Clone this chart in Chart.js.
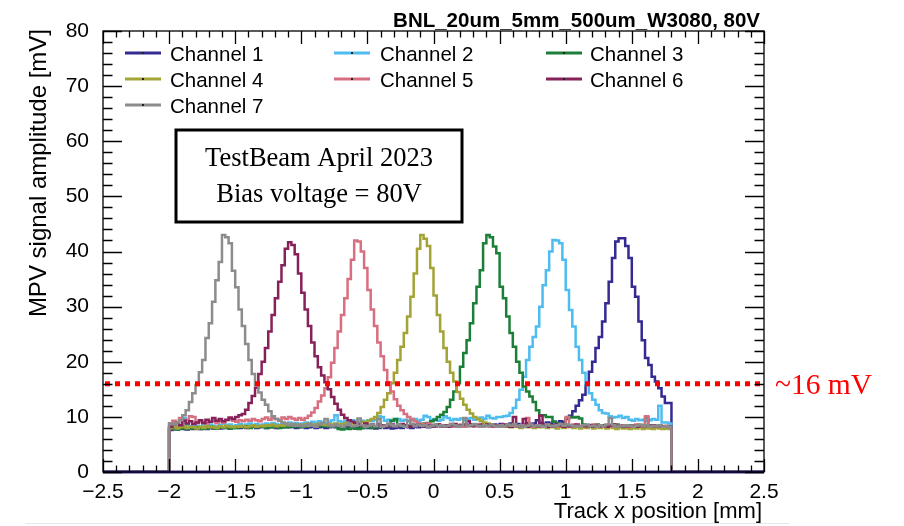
<!DOCTYPE html>
<html>
<head>
<meta charset="utf-8">
<script src="https://cdn.jsdelivr.net/npm/chart.js@4.4.1/dist/chart.umd.min.js"></script>
<style>
  html, body { margin: 0; padding: 0; background: #ffffff; }
  #wrap { width: 904px; height: 526px; }
</style>
</head>
<body>
<div id="wrap"><canvas id="c" width="904" height="526"></canvas></div>
<script>
// ---------------- data ----------------
const chartTitle = 'BNL_20um_5mm_500um_W3080, 80V';
const xTitle = 'Track x position [mm]';
const yTitle = 'MPV signal amplitude [mV]';
const boxLines = ['TestBeam April 2023', 'Bias voltage = 80V'];
const thresholdLabel = '~16 mV';
const threshold = 16;

const xMin = -2.5, xMax = 2.5;
const yMin = 0, yMax = 80;
const binStart = -2.0;      // first bin low edge [mm]
const binWidth = 0.025;     // bin width [mm]

const channelNames = ['Channel 1','Channel 2','Channel 3','Channel 4','Channel 5','Channel 6','Channel 7'];
const channelColors = ['#352a92','#4ebcef','#1c7f38','#a3a336','#d86f80','#862259','#8c8c8c'];

const ch1 = [
  7.6,7.8,7.7,7.9,7.8,7.7,7.9,7.8,8.0,7.8,
  7.9,7.8,8.0,7.9,8.1,7.9,8.0,8.1,7.9,8.0,
  8.1,8.0,8.2,8.0,8.1,8.2,8.0,8.1,8.2,8.0,
  8.1,8.2,8.0,8.2,8.1,8.3,8.1,8.2,8.0,8.1,
  8.2,8.0,8.1,8.2,8.0,8.1,8.2,8.0,8.1,8.3,
  8.1,8.2,8.0,8.1,8.2,8.0,7.9,8.1,8.0,8.2,
  8.0,8.1,7.9,8.0,8.2,8.0,8.1,7.9,8.0,8.1,
  8.0,8.2,8.1,8.0,8.2,8.1,8.3,8.2,8.1,8.3,
  8.2,8.4,8.3,8.2,8.4,8.3,8.5,8.4,8.3,8.5,
  8.4,8.6,8.4,8.5,8.7,8.5,8.6,8.4,8.6,8.5,
  8.7,8.5,8.6,8.8,8.6,8.7,8.5,8.7,8.9,8.6,
  8.8,9.4,8.9,8.7,9.0,8.8,9.1,8.9,9.2,9.0,
  9.6,10.2,11.0,12.0,13.0,14.0,15.8,18.2,20.0,22.5,
  24.5,27.3,30.6,34.5,38.8,41.8,42.4,42.4,41.0,38.8,
  33.6,31.8,27.3,23.9,20.7,19.4,17.3,16.4,15.2,13.7,
  12.5,12.5
];
const ch2 = [
  8.3,8.6,8.2,8.5,9.8,8.5,8.3,8.6,8.4,8.2,
  8.5,8.3,8.6,8.4,8.2,8.5,8.7,8.4,8.6,8.3,
  8.5,8.7,8.4,8.6,8.8,8.5,8.7,8.4,8.6,8.8,
  8.6,8.9,8.7,8.5,8.8,8.6,9.0,8.7,8.9,8.6,
  8.8,9.0,8.7,9.1,8.9,9.2,9.0,8.8,9.1,9.4,
  10.3,9.2,9.0,9.3,9.1,9.4,9.2,9.0,9.3,9.1,
  9.4,9.2,9.5,10.1,10.0,9.3,9.5,9.2,9.4,9.6,
  9.3,9.5,9.2,9.4,9.6,9.3,9.5,10.2,10.0,9.4,
  9.6,9.3,9.5,10.1,9.8,9.4,9.6,9.5,9.7,9.4,
  9.6,9.8,9.5,9.7,9.9,9.6,10.2,9.8,9.7,10.0,
  10.0,10.1,10.2,10.7,11.6,13.1,14.9,17.3,20.3,22.7,
  24.5,26.4,30.0,33.9,36.6,40.0,42.1,42.0,41.5,38.5,
  33.0,29.4,26.4,22.7,20.3,18.0,15.8,14.3,13.1,12.2,
  11.2,10.7,10.6,10.1,9.9,10.0,10.2,9.8,10.0,9.5,
  9.3,9.6,9.4,9.5,9.3,9.4,9.6,9.5,12.0,9.0,
  9.0,8.8
];
const ch3 = [
  7.8,8.0,7.7,7.9,8.1,7.8,8.0,7.9,8.1,7.8,
  8.0,7.9,8.2,8.0,7.9,8.1,8.0,8.2,7.9,8.1,
  8.0,8.2,8.1,8.3,8.0,8.2,8.1,8.3,8.2,8.0,
  8.2,8.1,8.3,8.0,8.2,8.1,8.3,8.2,8.4,8.1,
  8.3,8.2,8.4,8.5,8.2,8.4,8.3,8.5,8.2,8.4,
  8.3,7.8,7.7,7.9,7.8,8.0,7.9,7.8,8.0,8.1,
  8.2,8.0,8.3,8.1,8.2,8.4,8.3,9.3,9.6,8.5,
  8.3,8.5,8.4,8.6,8.5,8.7,8.6,8.8,8.9,9.2,
  9.5,10.0,10.4,10.9,11.8,13.1,14.6,16.1,19.1,21.6,
  23.9,27.0,30.6,33.6,36.6,41.5,43.0,42.6,40.9,39.7,
  33.6,31.5,28.2,25.2,22.7,20.0,18.0,15.5,14.6,13.7,
  12.7,11.2,10.3,10.3,10.0,10.0,9.1,8.8,8.6,8.5,
  9.8,10.0,9.9,10.0,9.7,8.6,8.4,8.5,8.3,8.6,
  8.4,8.2,8.5,8.3,8.4,8.6,8.3,8.2,8.4,8.5,
  8.3,8.2,8.4,8.3,9.9,8.5,8.2,8.4,8.3,8.2,
  8.3,8.1
];
const ch4 = [
  8.0,8.2,7.9,8.1,8.3,8.0,8.2,8.1,7.9,8.2,
  8.0,8.3,8.1,8.2,8.0,8.3,8.1,8.4,8.2,8.1,
  8.3,8.2,8.4,8.1,8.3,8.5,8.2,8.4,8.3,8.5,
  8.4,8.6,8.3,8.5,8.4,8.6,8.5,8.7,8.4,8.6,
  8.5,8.7,8.4,8.6,8.5,8.8,8.6,8.5,8.7,8.6,
  8.8,8.6,8.7,8.9,8.7,8.8,9.0,8.9,9.1,9.0,
  9.3,9.6,10.0,10.7,11.8,13.1,14.3,16.1,18.0,20.3,
  22.7,25.2,28.2,31.8,36.0,40.5,43.0,42.3,41.0,37.0,
  32.0,28.5,25.5,22.5,20.0,18.0,16.4,14.5,13.3,12.2,
  11.3,10.6,10.0,9.6,9.3,9.0,8.8,8.6,8.4,8.5,
  8.3,8.2,8.4,8.1,8.3,8.2,8.0,8.3,8.1,8.2,
  8.0,8.2,8.1,8.3,8.0,8.2,8.1,7.9,8.2,8.0,
  8.1,8.3,8.0,8.2,7.9,8.1,8.0,8.2,7.9,8.1,
  8.0,8.2,7.9,8.1,8.0,7.8,8.1,7.9,8.0,7.8,
  8.0,7.9,8.1,7.8,8.0,7.9,7.8,8.0,7.9,7.8,
  7.9,7.8
];
const ch5 = [
  8.8,9.3,9.0,9.8,9.4,9.5,10.1,10.0,8.9,9.2,
  9.0,8.8,9.1,9.3,8.9,9.2,9.0,9.4,9.6,9.3,
  9.1,9.4,9.2,9.5,9.3,9.6,9.4,9.2,9.6,9.9,
  9.5,9.8,9.6,9.4,9.9,9.6,10.0,9.7,9.5,9.8,
  9.5,9.8,10.2,10.8,11.6,12.8,13.9,15.2,17.2,19.8,
  22.5,25.5,28.5,31.5,35.0,38.5,42.0,41.8,40.0,37.0,
  33.0,29.5,26.5,23.5,21.0,18.5,16.3,14.6,13.2,12.0,
  11.2,10.5,10.0,9.6,9.2,8.9,8.7,8.5,8.8,8.4,
  8.3,8.6,8.4,8.2,8.5,8.7,8.3,8.4,8.6,8.2,
  8.5,8.3,8.4,8.6,8.2,8.5,8.3,8.4,8.2,8.5,
  8.3,8.6,8.4,8.2,8.5,8.3,8.4,8.6,9.8,8.4,
  8.2,8.5,8.3,8.4,8.6,8.2,8.5,8.3,8.4,8.2,
  10.0,8.3,8.6,8.4,8.2,8.5,8.3,8.4,8.6,8.3,
  8.2,8.5,8.4,8.3,8.6,8.2,8.4,8.5,8.3,8.2,
  8.4,8.6,8.3,8.5,10.1,8.2,8.4,8.3,8.5,8.2,
  8.4,8.1
];
const ch6 = [
  8.2,8.6,8.9,8.5,9.3,8.8,9.2,8.7,9.0,9.4,
  8.9,9.5,9.1,9.8,9.3,9.6,9.2,9.5,9.9,9.6,
  10.0,10.3,10.5,11.3,12.5,13.8,15.3,17.8,20.0,22.5,
  25.5,28.5,31.5,34.5,37.5,40.5,41.7,41.2,39.5,36.0,
  32.5,29.5,26.5,23.5,21.0,19.0,17.5,16.3,15.0,13.6,
  12.4,11.3,10.4,9.8,9.4,9.1,8.9,8.7,8.5,8.8,
  8.4,8.6,8.3,8.7,8.5,8.2,8.4,8.6,8.3,8.5,
  8.7,8.4,8.2,8.5,8.3,8.6,8.4,8.2,8.5,8.3,
  8.4,8.6,8.3,8.5,8.2,8.4,8.7,8.3,8.5,8.6,
  9.2,8.4,8.3,8.5,8.2,8.4,8.6,8.3,8.5,8.2,
  8.4,8.6,8.3,8.2,10.0,8.3,8.4,9.6,8.2,8.4,
  8.5,8.3,10.2,8.4,8.2,8.5,8.3,8.6,8.4,8.2,
  8.5,8.3,8.4,8.6,8.2,8.4,8.3,8.5,8.2,8.4,
  8.3,8.5,8.2,8.4,8.6,8.3,8.4,8.2,8.5,8.3,
  8.4,8.2,8.5,8.3,8.4,8.2,8.5,8.3,8.4,8.2,
  8.3,8.2
];
const ch7 = [
  8.8,8.6,9.0,9.4,10.3,11.2,12.7,14.3,15.8,18.1,
  20.3,24.3,27.0,30.9,34.8,38.1,43.0,42.6,41.5,36.5,
  33.5,29.5,26.5,23.2,20.3,17.8,15.8,14.4,13.1,12.2,
  11.0,10.1,9.6,9.3,9.0,8.8,8.5,8.7,8.4,8.6,
  8.3,8.5,8.8,8.4,8.2,8.6,8.9,9.6,8.5,8.3,
  8.6,8.4,8.2,8.5,8.8,8.3,8.4,9.7,8.5,8.2,
  8.4,8.6,8.3,9.6,8.2,8.4,8.8,8.5,8.3,8.6,
  8.4,8.2,9.3,8.7,8.3,8.6,8.4,8.5,8.2,8.4,
  8.6,8.3,8.5,8.3,8.4,8.7,8.5,8.2,8.4,9.8,
  8.3,8.5,8.7,8.4,8.2,8.5,8.3,8.6,8.4,8.2,
  8.5,8.3,8.6,8.4,8.7,8.3,8.5,8.2,8.4,8.6,
  8.3,8.5,8.4,8.2,8.6,8.4,8.3,8.5,8.7,8.4,
  8.6,8.5,8.3,8.4,8.2,8.5,8.6,8.3,8.4,8.2,
  8.5,8.3,8.6,9.8,8.5,8.2,8.4,8.3,8.5,8.4,
  8.2,8.4,8.6,8.3,8.5,8.2,8.4,8.3,8.5,8.2,
  8.3,8.1
];
const channelValues = [ch1, ch2, ch3, ch4, ch5, ch6, ch7];

// ---------------- build histogram step datasets ----------------
function histPoints(vals) {
  const pts = [{x: xMin, y: 0}];
  vals.forEach((v, i) => pts.push({x: +(binStart + i * binWidth).toFixed(4), y: v}));
  pts.push({x: +(binStart + vals.length * binWidth).toFixed(4), y: 0});
  pts.push({x: xMax, y: 0});
  return pts;
}

const datasets = channelValues.map((vals, i) => ({
  label: channelNames[i],
  data: histPoints(vals),
  borderColor: channelColors[i],
  backgroundColor: channelColors[i],
  borderWidth: 2.5,
  pointRadius: 0,
  stepped: 'before',
  fill: false,
  tension: 0,
  order: channelNames.length - i
}));

const SANS = '"Liberation Sans", Arial, Helvetica, sans-serif';
const SERIF = '"Liberation Serif", "Times New Roman", serif';

const decor = {
  id: 'decor',
  afterDatasetsDraw(chart) {
    const {ctx, chartArea: a, scales: {x, y}} = chart;
    ctx.save();
    // zero line
    const y0 = y.getPixelForValue(0);
    ctx.strokeStyle = channelColors[0];
    ctx.lineWidth = 3;
    ctx.beginPath(); ctx.moveTo(a.left, y0); ctx.lineTo(a.right, y0); ctx.stroke();
    // threshold dotted line
    const yt = y.getPixelForValue(threshold);
    ctx.strokeStyle = '#ff0000';
    ctx.lineWidth = 5;
    ctx.setLineDash([5, 5]);
    ctx.beginPath(); ctx.moveTo(a.left + 2, yt); ctx.lineTo(a.right, yt); ctx.stroke();
    ctx.restore();
  },
  afterDraw(chart) {
    const {ctx, chartArea: a, scales: {x, y}} = chart;
    ctx.save();
    // frame
    ctx.strokeStyle = '#000';
    ctx.lineWidth = 1.3;
    ctx.strokeRect(a.left, a.top, a.right - a.left, a.bottom - a.top);
    // x ticks (bottom + top), inside
    for (let i = 0; i <= 50; i++) {
      const v = xMin + i * 0.1;
      const px = Math.round(x.getPixelForValue(v)) + 0.5;
      const len = (i % 5 === 0) ? 13 : 6.5;
      ctx.beginPath();
      ctx.moveTo(px, a.bottom); ctx.lineTo(px, a.bottom - len);
      ctx.moveTo(px, a.top); ctx.lineTo(px, a.top + len);
      ctx.stroke();
    }
    // y ticks (left + right), inside
    for (let i = 0; i <= 40; i++) {
      const v = yMin + i * 2;
      const py = Math.round(y.getPixelForValue(v)) + 0.5;
      const len = (i % 5 === 0) ? 19 : 9.5;
      ctx.beginPath();
      ctx.moveTo(a.left, py); ctx.lineTo(a.left + len, py);
      ctx.moveTo(a.right, py); ctx.lineTo(a.right - len, py);
      ctx.stroke();
    }
    // title
    ctx.fillStyle = '#000';
    ctx.font = 'bold 20.5px ' + SANS;
    ctx.textAlign = 'right';
    ctx.textBaseline = 'alphabetic';
    ctx.fillText(chartTitle, a.right - 4, 27);
    // x title
    ctx.font = '22px ' + SANS;
    ctx.fillText(xTitle, a.right - 2, 518);
    // y title
    ctx.save();
    ctx.translate(46, a.top - 2);
    ctx.rotate(-Math.PI / 2);
    ctx.font = '24px ' + SANS;
    ctx.textAlign = 'right';
    ctx.fillText(yTitle, 0, 0);
    ctx.restore();
    // legend
    const lineX = [125, 334, 546];
    const textX = [170, 380, 590];
    ctx.font = '20.5px ' + SANS;
    ctx.textAlign = 'left';
    channelNames.forEach((name, i) => {
      const col = i % 3, row = Math.floor(i / 3);
      const cy = 53 + row * 26;
      ctx.strokeStyle = channelColors[i];
      ctx.lineWidth = 3;
      ctx.beginPath(); ctx.moveTo(lineX[col], cy); ctx.lineTo(lineX[col] + 36, cy); ctx.stroke();
      ctx.fillStyle = '#222';
      ctx.fillRect(lineX[col] + 17, cy - 1, 2, 2);
      ctx.fillStyle = '#000';
      ctx.fillText(name, textX[col], cy + 7.5);
    });
    // text box
    ctx.fillStyle = '#fff';
    ctx.fillRect(176, 130, 286, 92);
    ctx.strokeStyle = '#000';
    ctx.lineWidth = 3;
    ctx.strokeRect(176, 130, 286, 92);
    ctx.fillStyle = '#000';
    ctx.font = '26.5px ' + SERIF;
    ctx.textAlign = 'center';
    ctx.fillText(boxLines[0], 319, 166);
    ctx.fillText(boxLines[1], 319, 202);
    // threshold label
    ctx.fillStyle = '#ff0000';
    ctx.font = '29.5px ' + SERIF;
    ctx.textAlign = 'left';
    ctx.fillText(thresholdLabel, 775, y.getPixelForValue(threshold) + 10);
    // faint bottom border
    ctx.strokeStyle = '#e6e6e6';
    ctx.lineWidth = 1;
    ctx.beginPath(); ctx.moveTo(25, 523.5); ctx.lineTo(790, 523.5); ctx.stroke();
    ctx.restore();
  }
};

new Chart(document.getElementById('c'), {
  type: 'line',
  data: { datasets },
  options: {
    responsive: false,
    animation: false,
    devicePixelRatio: 1,
    layout: { padding: { left: 0, top: 31, right: 140, bottom: 0 } },
    plugins: { legend: { display: false }, tooltip: { enabled: false }, title: { display: false } },
    scales: {
      x: {
        type: 'linear',
        min: xMin, max: xMax,
        grid: { display: false },
        border: { display: false },
        ticks: {
          stepSize: 0.5,
          autoSkip: false,
          maxRotation: 0,
          padding: 0,
          color: '#000',
          font: { family: SANS, size: 21 },
          callback: (v) => {
            const r = Math.round(v * 10) / 10;
            return (r < 0 ? '\u2212' : '') + String(Math.abs(r));
          }
        },
        afterFit: (s) => { s.height = 54; }
      },
      y: {
        type: 'linear',
        min: yMin, max: yMax,
        grid: { display: false },
        border: { display: false },
        ticks: {
          stepSize: 10,
          padding: 6,
          color: '#000',
          font: { family: SANS, size: 21 }
        },
        afterFit: (s) => { s.width = 103; }
      }
    }
  },
  plugins: [decor]
});
</script>
</body>
</html>
